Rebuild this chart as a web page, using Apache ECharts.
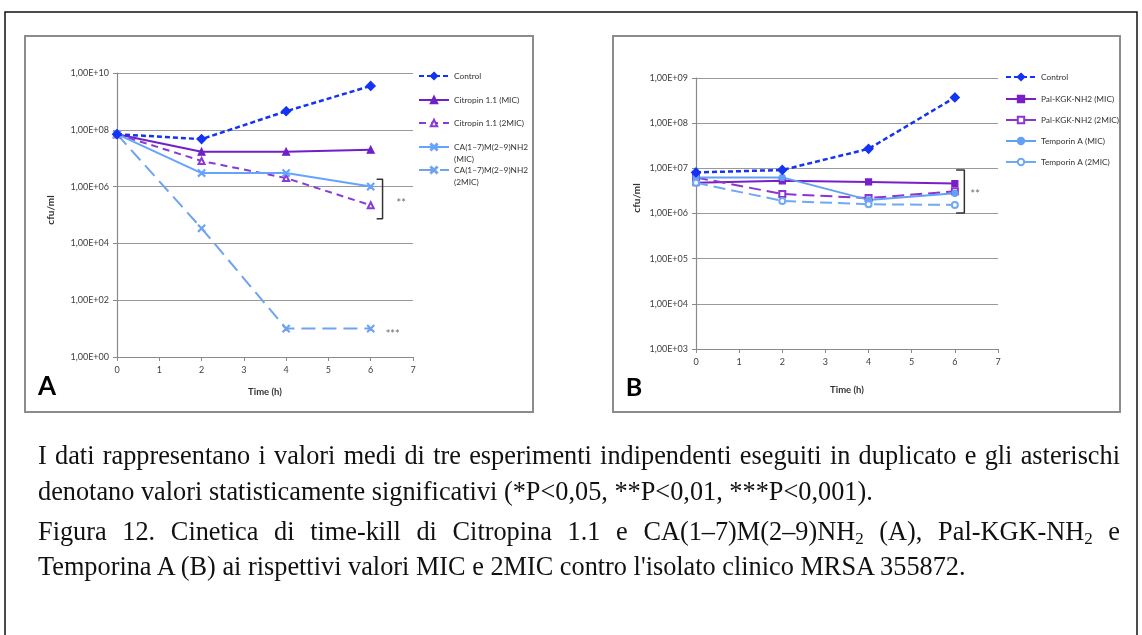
<!DOCTYPE html>
<html>
<head>
<meta charset="utf-8">
<script src="https://cdn.jsdelivr.net/npm/echarts@6/dist/echarts.min.js"></script>
<style>
  html, body { margin: 0; padding: 0; background: #fff; }
  #page { position: relative; width: 1142px; height: 635px; overflow: hidden; }
  #chart { position: absolute; left: 0; top: 0; width: 1142px; height: 635px; }
  .cap {
    position: absolute; left: 38px; width: 1082px; height: 32px; line-height: 32px;
    font-family: 'Liberation Serif', 'Times New Roman', serif; font-size: 26.3px; color: #111;
    white-space: nowrap;
  }
  .cap.just { text-align: justify; text-align-last: justify; white-space: normal; overflow: hidden; }
  .cap sub { font-size: 17px; line-height: 0; vertical-align: -4px; }
</style>
</head>
<body>
<div id="page">
  <div id="chart"></div>
  <div class="cap just" style="top:440px">I dati rappresentano i valori medi di tre esperimenti indipendenti eseguiti in duplicato e gli asterischi</div>
  <div class="cap" style="top:476px">denotano valori statisticamente significativi (*P&lt;0,05, **P&lt;0,01, ***P&lt;0,001).</div>
  <div class="cap just" style="top:516px">Figura 12. Cinetica di time-kill di Citropina 1.1 e CA(1–7)M(2–9)NH<sub>2</sub> (A), Pal-KGK-NH<sub>2</sub> e</div>
  <div class="cap" style="top:551px">Temporina A (B) ai rispettivi valori MIC e 2MIC contro l'isolato clinico MRSA 355872.</div>
</div>
<script>
// sampling times (h)
const times = [0, 2, 4, 6]

// Panel A, cfu/ml
const controlA = [7e7, 4.7e7, 4.5e8, 3.5e9]
const citropinMic = [7e7, 1.7e7, 1.7e7, 2e7]
const citropin2Mic = [7e7, 8e6, 2e6, 2.2e5]
const caMic = [7e7, 3e6, 3e6, 1e6]
const ca2Mic = [7e7, 3.4e4, 10, 10]

// Panel B, cfu/ml
const controlB = [8.1e6, 9.2e6, 2.7e7, 3.7e8]
const palMic = [4.8e6, 5.3e6, 5e6, 4.6e6]
const pal2Mic = [6.3e6, 2.7e6, 2.2e6, 3.1e6]
const tempMic = [6.3e6, 6.3e6, 2e6, 2.8e6]
const temp2Mic = [4.8e6, 1.9e6, 1.6e6, 1.55e6]

const namesA = ['Control', 'Citropin 1.1 (MIC)', 'Citropin 1.1 (2MIC)', 'CA(1–7)M(2–9)NH2\n(MIC)', 'CA(1–7)M(2–9)NH2\n(2MIC)']
const namesB = ['Control', 'Pal-KGK-NH2 (MIC)', 'Pal-KGK-NH2 (2MIC)', 'Temporin A (MIC)', 'Temporin A (2MIC)']

// significance annotations: bracket corners [t, cfu] and star labels [t, cfu, text]
const bracketA = [[6.14, 1.8e6], [6.28, 1.8e6], [6.28, 7.4e4], [6.14, 7.4e4]]
const bracketB = [[6.03, 9.2e6], [6.22, 9.2e6], [6.22, 1.02e6], [6.03, 1.02e6]]
const starsA = [[6.72, 2.6e5, '**'], [6.52, 6, '***']]
const starsB = [[6.47, 2.7e6, '**']]

const FONT = 'Lato, "Open Sans", sans-serif'
const CROSS = 'path://M0,1L1,0L5,4L9,0L10,1L6,5L10,9L9,10L5,6L1,10L0,9L4,5Z'
const AXIS_GRAY = '#8a8a8a'

const toLog = (v) => Math.log10(v)
const expLabel = (v) => {
  const e = Math.round(v)
  return '1,00E+' + (e < 10 ? '0' + e : e)
}

function lineSeries(name, vals, gi, color, dash, width, symbol, size, z) {
  return {
    name,
    type: 'line',
    xAxisIndex: gi,
    yAxisIndex: gi,
    data: times.map((t, i) => [t, toLog(vals[i])]),
    symbol,
    symbolSize: size,
    lineStyle: { color, width, type: dash },
    itemStyle: { color, borderColor: color, borderWidth: 1.2 },
    z: z || 2,
  }
}

function bracket(pts, gi) {
  return {
    type: 'line',
    xAxisIndex: gi,
    yAxisIndex: gi,
    data: pts.map((p) => [p[0], toLog(p[1])]),
    symbol: 'none',
    silent: true,
    lineStyle: { color: '#333', width: 1.5 },
  }
}

function stars(pts, gi) {
  return {
    type: 'scatter',
    xAxisIndex: gi,
    yAxisIndex: gi,
    data: pts.map((p) => [p[0], toLog(p[1]), p[2]]),
    symbolSize: 1,
    itemStyle: { color: 'rgba(0,0,0,0)' },
    silent: true,
    label: {
      show: true,
      position: 'inside',
      formatter: (p) => p.data[2],
      fontFamily: FONT,
      fontSize: 11,
      color: '#444',
    },
  }
}

// two-line names get an empty first line so the icon sits next to the first real line
function legendItem(name, left, yCenter, twoLine) {
  return {
    data: [name],
    left,
    top: twoLine ? yCenter - 18 : yCenter - 6,
    orient: 'vertical',
    padding: 0,
    itemWidth: 30,
    itemHeight: 8,
    selectedMode: false,
    formatter: twoLine ? (n) => '\u00a0\n' + n : '{name}',
    textStyle: {
      fontFamily: FONT,
      fontSize: 8.3,
      color: '#333',
      lineHeight: 12,
    },
  }
}

function xAxis(gi, nameGap) {
  return {
    gridIndex: gi,
    type: 'value',
    min: 0,
    max: 7,
    interval: 1,
    axisLine: { lineStyle: { color: AXIS_GRAY, width: 1.2 } },
    axisTick: { show: true, length: 4, lineStyle: { color: AXIS_GRAY } },
    axisLabel: { fontFamily: FONT, fontSize: 9, color: '#404040', margin: 9 },
    splitLine: { show: false },
    name: 'Time (h)',
    nameLocation: 'middle',
    nameGap,
    nameTextStyle: { fontFamily: FONT, fontSize: 9.5, fontWeight: 'bold', color: '#333' },
  }
}

function yAxis(gi, min, max, interval) {
  return {
    gridIndex: gi,
    type: 'value',
    min,
    max,
    interval,
    axisLine: { show: true, lineStyle: { color: AXIS_GRAY, width: 1.2 } },
    axisTick: { show: true, length: 4, lineStyle: { color: AXIS_GRAY } },
    axisLabel: { fontFamily: FONT, fontSize: 9, color: '#404040', margin: 8, formatter: expLabel },
    splitLine: { show: true, lineStyle: { color: '#9a9a9a', width: 1.2 } },
  }
}

const chart = echarts.init(document.getElementById('chart'))

const option = {
  animation: false,
  backgroundColor: '#fff',
  grid: [
    { left: 117, top: 73, width: 296, height: 284 },
    { left: 696, top: 78, width: 302, height: 271 },
  ],
  xAxis: [xAxis(0, 30), xAxis(1, 36)],
  yAxis: [yAxis(0, 0, 10, 2), yAxis(1, 3, 9, 1)],
  legend: [
    legendItem(namesA[0], 418, 76),
    legendItem(namesA[1], 418, 100),
    legendItem(namesA[2], 418, 123),
    legendItem(namesA[3], 418, 147, true),
    legendItem(namesA[4], 418, 170, true),
    legendItem(namesB[0], 1005, 77),
    legendItem(namesB[1], 1005, 99),
    legendItem(namesB[2], 1005, 120),
    legendItem(namesB[3], 1005, 141),
    legendItem(namesB[4], 1005, 162),
  ],
  graphic: [
    { type: 'rect', shape: { x: 5, y: 12, width: 1132, height: 640 }, style: { fill: 'none', stroke: '#111', lineWidth: 1.5 } },
    { type: 'rect', shape: { x: 25, y: 36, width: 508, height: 376 }, style: { fill: 'none', stroke: '#8c8c8c', lineWidth: 2 } },
    { type: 'rect', shape: { x: 613, y: 36, width: 507, height: 376 }, style: { fill: 'none', stroke: '#8c8c8c', lineWidth: 2 } },
    { type: 'text', x: 51, y: 210, rotation: Math.PI / 2, style: { text: 'cfu/ml', font: 'bold 10px ' + FONT, fill: '#333', align: 'center', verticalAlign: 'middle' } },
    { type: 'text', x: 637, y: 198, rotation: Math.PI / 2, style: { text: 'cfu/ml', font: 'bold 10px ' + FONT, fill: '#333', align: 'center', verticalAlign: 'middle' } },
    { type: 'text', x: 47, y: 387, style: { text: 'A', font: 'bold 26px ' + FONT, fill: '#000', align: 'center', verticalAlign: 'middle', shadowColor: 'rgba(0,0,0,0.35)', shadowBlur: 2, shadowOffsetX: 1, shadowOffsetY: 1 } },
    { type: 'text', x: 634, y: 388, style: { text: 'B', font: 'bold 25px ' + FONT, fill: '#000', align: 'center', verticalAlign: 'middle', shadowColor: 'rgba(0,0,0,0.35)', shadowBlur: 2, shadowOffsetX: 1, shadowOffsetY: 1 } },
  ],
  series: [
    // panel A
    lineSeries(namesA[1], citropinMic, 0, '#7020c8', 'solid', 2, 'triangle', 7),
    lineSeries(namesA[2], citropin2Mic, 0, '#8a3ad6', [7, 5], 2, 'emptyTriangle', 6),
    lineSeries(namesA[3], caMic, 0, '#66a3ff', 'solid', 2, CROSS, 7),
    lineSeries(namesA[4], ca2Mic, 0, '#6fa3f0', [14, 7], 2, CROSS, 7),
    lineSeries(namesA[0], controlA, 0, '#1533f2', [5, 3], 2.5, 'diamond', 9, 3),
    bracket(bracketA, 0),
    stars(starsA, 0),
    // panel B
    lineSeries(namesB[1], palMic, 1, '#7a1fc8', 'solid', 2, 'rect', 6),
    lineSeries(namesB[2], pal2Mic, 1, '#8a35d0', [12, 6], 2, 'emptyRect', 6),
    lineSeries(namesB[3], tempMic, 1, '#62a0f5', 'solid', 2, 'circle', 6),
    lineSeries(namesB[4], temp2Mic, 1, '#6fa8f5', [12, 6], 2, 'emptyCircle', 6),
    lineSeries(namesB[0], controlB, 1, '#1533f2', [5, 3], 2.5, 'diamond', 9, 3),
    bracket(bracketB, 1),
    stars(starsB, 1),
  ],
}

chart.setOption(option)
</script>
</body>
</html>
